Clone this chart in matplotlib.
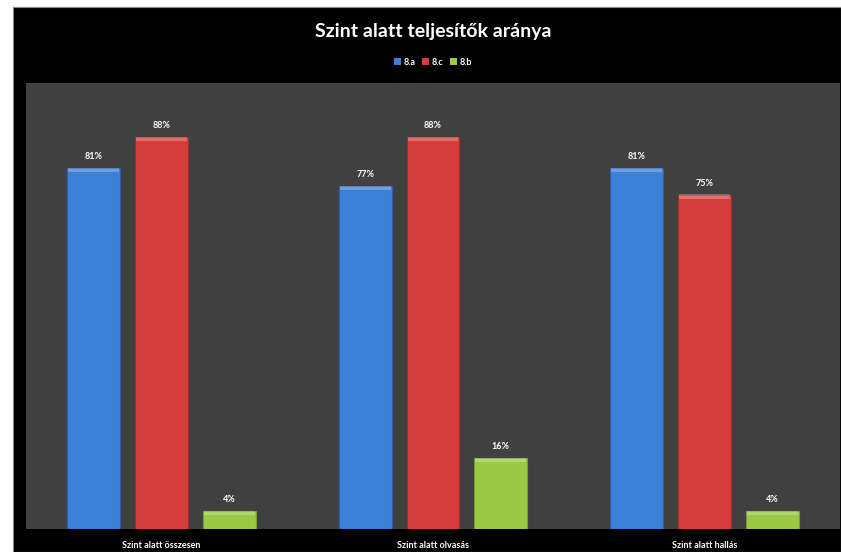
import matplotlib
matplotlib.use('Agg')
import matplotlib.pyplot as plt
import matplotlib.patches as mpatches
import numpy as np

# chart data
categories = ['Szint alatt összesen', 'Szint alatt olvasás', 'Szint alatt hallás']
series_names = ['8.a', '8.c', '8.b']
values_8a = [81, 77, 81]
values_8c = [88, 88, 75]
values_8b = [4, 16, 4]
title = 'Szint alatt teljesítők aránya'

colors = ['#3d7fd6', '#d63e3e', '#9cc943']
edge_colors = ['#2a5ea6', '#a82c2c', '#76a02c']

W, H = 841, 552
fig = plt.figure(figsize=(W / 100, H / 100), dpi=100, facecolor='white')
plt.rcParams['font.family'] = ['Lato', 'DejaVu Sans']

# black chart frame
fig.patches.append(mpatches.Rectangle((13 / W, 0), 1 - 13 / W, 1 - 7 / H,
                                      transform=fig.transFigure, facecolor='black',
                                      edgecolor='#888888', linewidth=0.8, zorder=-5))

ax = fig.add_axes([26 / W, (H - 529) / H, (840 - 26) / W, (529 - 83) / H])
ax.set_zorder(2)
ax.set_facecolor('#404040')

x = np.arange(len(categories))
width = 0.195
offsets = [-0.25, 0, 0.25]
all_values = [values_8a, values_8c, values_8b]

for vals, off, col, ec, name in zip(all_values, offsets, colors, edge_colors, series_names):
    bars = ax.bar(x + off, vals, width, color=col, edgecolor=ec, linewidth=0.8, label=name, zorder=2)
    for b, v in zip(bars, vals):
        # lighter top strip for the bevel look
        ax.add_patch(mpatches.Rectangle((b.get_x() + 0.004, v - 0.9), width - 0.008, 0.9,
                                        facecolor='white', alpha=0.25, linewidth=0, zorder=3))
        ax.annotate(f'{v}%', (b.get_x() + width / 2, v), xytext=(0, 5), textcoords='offset points',
                    ha='center', va='bottom', color='white', fontsize=6.5, fontweight='bold')

ax.set_xlim(-0.5, 2.5)
ax.set_ylim(0, 100)
ax.set_yticks([])
ax.set_xticks(x)
ax.set_xticklabels(categories, color='white', fontsize=6.5, fontweight='bold')
ax.tick_params(axis='x', length=0, pad=9)
for s in ax.spines.values():
    s.set_visible(False)

fig.text(433 / W, 1 - 31 / H, title, ha='center', va='center', color='white',
         fontsize=14, fontweight='bold')

handles = [mpatches.Patch(facecolor=c, edgecolor='none') for c in colors]
fig.legend(handles, series_names, loc='center', bbox_to_anchor=(433 / W, 1 - 62 / H),
           ncol=3, frameon=False, labelcolor='white', handlelength=0.7,
           handleheight=0.7, handletextpad=0.3, columnspacing=0.8, prop={'weight': 'bold', 'size': 6.5})

fig.savefig('out.png', dpi=100, facecolor='white')
